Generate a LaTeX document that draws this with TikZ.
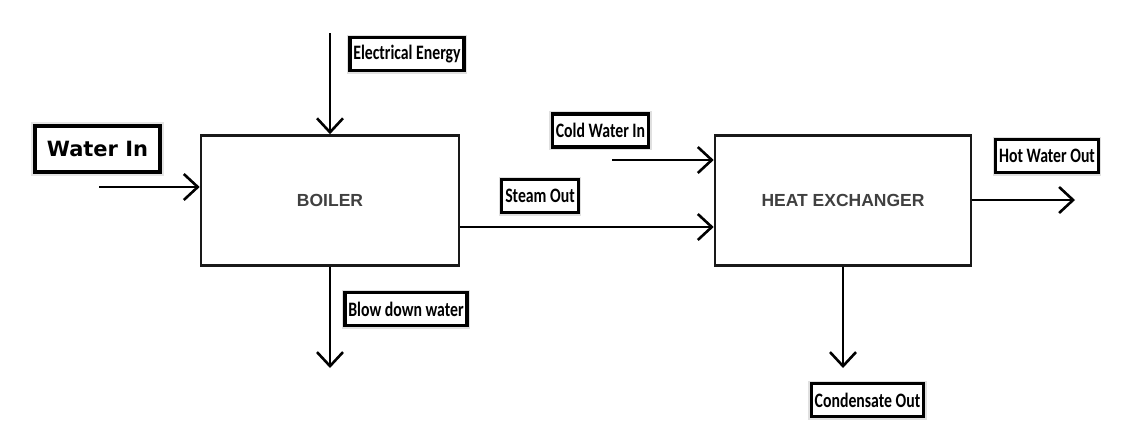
\documentclass[tikz,border=0pt]{standalone}
\usepackage{fontspec}
\usetikzlibrary{arrows.meta}
\newfontfamily\labfont[FakeStretch=0.77]{Carlito}
\newfontfamily\verdfont{DejaVu Sans}
\newfontfamily\arialfont{Liberation Sans}
\definecolor{boxtext}{HTML}{404040}
\tikzset{
  x=1pt, y=1pt,
  unit/.style={draw=black!90, line width=2.6pt, rectangle, inner sep=0pt,
    font=\arialfont\bfseries\fontsize{17.5}{20}\selectfont, text=boxtext},
  tag/.style={draw=black, line width=3.4pt, rectangle, inner xsep=3.5pt, inner ysep=2pt,
    minimum height=33pt, fill=white,
    preaction={draw=black!12, line width=6pt},
    font=\labfont\bfseries\fontsize{20.5}{22}\selectfont},
  bigtag/.style={tag, line width=4.6pt, minimum height=46pt, minimum width=125pt,
    preaction={draw=black!10, line width=7.5pt},
    font=\verdfont\bfseries\fontsize{21}{24}\selectfont},
  flow/.style={line width=2.6pt, -{Straight Barb[length=14pt, width=26pt, line width=2.6pt]}}
}
\begin{document}
\begin{tikzpicture}
\useasboundingbox[fill=white] (0,0) rectangle (1134,-445);
% units
\node[unit, minimum width=258pt, minimum height=130pt] (boiler) at (330,-200.5) {BOILER};
\node[unit, minimum width=256pt, minimum height=130pt] (hx) at (843,-200.5) {HEAT EXCHANGER};
% labels
\node[bigtag] (lwi) at (97.5,-149) {Water In};
\node[tag] (lee) at (407,-54) {Electrical Energy};
\node[tag] (lcw) at (600.5,-130.5) {Cold Water In};
\node[tag] (lst) at (540,-196) {Steam Out};
\node[tag] (lhw) at (1047,-156) {Hot Water Out};
\node[tag] (lbd) at (406,-309) {Blow down water};
\node[tag] (lcd) at (867.5,-400) {Condensate Out};
% free ends
\coordinate (wi) at (99,-187);
\coordinate (ee) at (330,-33);
\coordinate (st) at (500,-227);
\coordinate (cw) at (612,-160);
\coordinate (hw) at (1075,-200);
\coordinate (bd) at (330,-368);
\coordinate (cd) at (843,-368);
% flows
\draw[flow] (wi) -- (wi -| boiler.west);
\draw[flow] (ee) -- (boiler.north);
\draw[flow] (boiler.east |- st) -- (hx.west |- st);
\draw[flow] (cw) -- (cw -| hx.west);
\draw[flow] (hx.east |- hw) -- (hw);
\draw[flow] (boiler.south) -- (bd);
\draw[flow] (hx.south) -- (cd);
\end{tikzpicture}
\end{document}
